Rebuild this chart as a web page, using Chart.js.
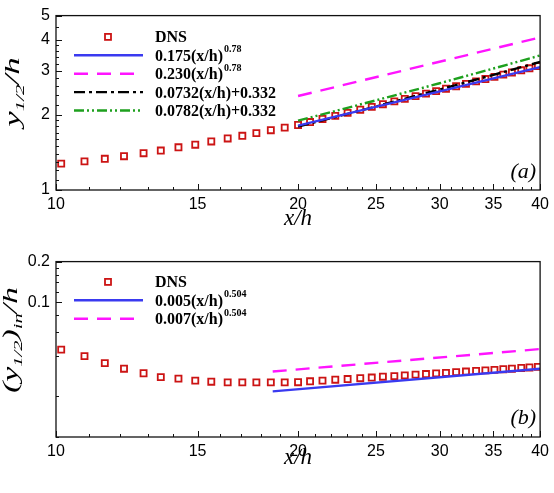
<!DOCTYPE html>
<html>
<head>
<meta charset="utf-8">
<script src="https://cdn.jsdelivr.net/npm/chart.js@4.4.1/dist/chart.umd.min.js"></script>
<style>
  html, body { margin: 0; padding: 0; background: #fff; }
  #wrap { position: relative; width: 554px; height: 493px; }
  canvas { position: absolute; left: 0; }
</style>
</head>
<body>
<div id="wrap">
  <canvas id="topCanvas" width="554" height="246" style="top:0;width:554px;height:246px"></canvas>
  <canvas id="bottomCanvas" width="554" height="247" style="top:246px;width:554px;height:247px"></canvas>
</div>
<script>
// x/h positions of the DNS samples (same in both panels)
const xh = [10.15, 10.85, 11.5, 12.15, 12.85, 13.5, 14.2, 14.9, 15.6, 16.35, 17.05, 17.75, 18.5, 19.25,
  20.0, 20.7, 21.45, 22.25, 23.05, 23.9, 24.7, 25.5, 26.35, 27.15, 28.0, 28.85, 29.7, 30.55,
  31.45, 32.35, 33.3, 34.2, 35.1, 36.0, 36.9, 37.9, 38.8, 39.75];

// (a) y_1/2 / h
const dnsTop = [1.275, 1.302, 1.334, 1.366, 1.404, 1.439, 1.483, 1.519, 1.565, 1.609, 1.649, 1.690, 1.736, 1.778,
  1.822, 1.872, 1.926, 1.982, 2.038, 2.097, 2.153, 2.207, 2.265, 2.319, 2.377, 2.434, 2.490, 2.546,
  2.605, 2.664, 2.725, 2.784, 2.842, 2.899, 2.956, 3.019, 3.075, 3.135];
const powX = [20, 40];
const blueTop = [1.81, 3.11];
const magentaTop = [2.38, 4.09];
const linX = [20, 25, 30, 35, 40];
const blackTop = [1.796, 2.162, 2.528, 2.894, 3.26];
const greenTop = [1.896, 2.287, 2.678, 3.069, 3.46];

// (b) (y_1/2)_in / h
const dnsBottom = [0.0445, 0.0398, 0.0353, 0.0321, 0.0297, 0.0278, 0.0271, 0.0262, 0.0257, 0.0254, 0.0254, 0.0254, 0.0254, 0.0254,
  0.0255, 0.0259, 0.0262, 0.0266, 0.0269, 0.0273, 0.0276, 0.0280, 0.0283, 0.0286, 0.0290, 0.0293, 0.0296, 0.0299,
  0.0303, 0.0306, 0.0309, 0.0312, 0.0315, 0.0318, 0.0321, 0.0325, 0.0328, 0.0331];
const powXb = [18.6, 40];
const blueBottom = [0.0218, 0.0321];
const magentaBottom = [0.0306, 0.0449];

// ticks
const xTicks = [10, 11, 12, 13, 14, 15, 16, 17, 18, 19, 20, 21, 22, 23, 24, 25, 26, 27, 28, 29, 30,
  31, 32, 33, 34, 35, 36, 37, 38, 39, 40];
const xLabels = [10, 15, 20, 25, 30, 35, 40];
const yTicksTop = [1, 1.1, 1.2, 1.3, 1.4, 1.5, 1.6, 1.7, 1.8, 1.9, 2, 2.2, 2.4, 2.6, 2.8, 3, 3.2, 3.4, 3.6, 3.8, 4, 4.5, 5];
const yLabelsTop = [1, 2, 3, 4, 5];
const yTicksBottom = [0.01, 0.02, 0.04, 0.06, 0.08, 0.1, 0.12, 0.14, 0.16, 0.18, 0.2];
const yLabelsBottom = [0.1, 0.2];

// legend texts
const legendTop = ["DNS", "0.175(x/h)", "0.230(x/h)", "0.0732(x/h)+0.332", "0.0782(x/h)+0.332"];
const legendTopSup = ["", "0.78", "0.78", "", ""];
const legendBottom = ["DNS", "0.005(x/h)", "0.007(x/h)"];
const legendBottomSup = ["", "0.504", "0.504"];

const RED = "#cc1414";
const BLUE = "#3a3af0";
const MAGENTA = "#ff14ff";
const GREEN = "#1ea01e";
const serif = "'Liberation Serif', 'Times New Roman', serif";
const sans = "'Liberation Sans', Arial, sans-serif";

function pts(xs, ys) {
    return xs.map((x, i) => ({ x: x, y: ys[i] }));
}

function dnsSet(ys) {
    return {
        data: pts(xh, ys),
        showLine: false,
        pointStyle: "rect",
        pointRadius: 4.3,
        pointBorderWidth: 1.8,
        pointBorderColor: RED,
        pointBackgroundColor: "rgba(0,0,0,0)",
        order: 10
    };
}

function lineSet(xs, ys, color, dash) {
    return {
        data: pts(xs, ys),
        borderColor: color,
        borderWidth: 2.4,
        borderDash: dash,
        pointRadius: 0,
        fill: false,
        order: 1
    };
}

// inward ticks, frame, legend, panel letter and the y title with subscripts
const framePlugin = {
    id: "frame",
    afterDraw(chart, args, opts) {
        const ctx = chart.ctx;
        const a = chart.chartArea;
        const xs = chart.scales.x, ys = chart.scales.y;
        ctx.save();
        ctx.strokeStyle = "#111";
        ctx.lineWidth = 1;
        ctx.beginPath();
        xs.ticks.forEach(t => {
            const px = Math.round(xs.getPixelForValue(t.value)) + 0.5;
            const len = xLabels.includes(t.value) ? 6 : 3;
            ctx.moveTo(px, a.bottom);
            ctx.lineTo(px, a.bottom - len);
        });
        ys.ticks.forEach(t => {
            const py = Math.round(ys.getPixelForValue(t.value)) + 0.5;
            const len = opts.yLabels.includes(t.value) ? 6 : 3;
            ctx.moveTo(a.left, py);
            ctx.lineTo(a.left + len, py);
        });
        ctx.stroke();
        ctx.lineWidth = 1.3;
        ctx.strokeRect(a.left, a.top, a.right - a.left, a.bottom - a.top);

        // legend
        chart.data.datasets.forEach((ds, i) => {
            const y = a.top + opts.legendTop + i * 18.4;
            if (ds.showLine === false) {
                ctx.strokeStyle = ds.pointBorderColor;
                ctx.lineWidth = 1.8;
                ctx.setLineDash([]);
                ctx.strokeRect(105, y - 3, 6, 6);
            } else {
                ctx.strokeStyle = ds.borderColor;
                ctx.lineWidth = ds.borderWidth;
                ctx.setLineDash(ds.borderDash || []);
                ctx.beginPath();
                ctx.moveTo(74, y);
                ctx.lineTo(143, y);
                ctx.stroke();
            }
            ctx.setLineDash([]);
            ctx.fillStyle = "#000";
            ctx.textAlign = "left";
            ctx.textBaseline = "alphabetic";
            ctx.font = "bold 16px " + serif;
            ctx.fillText(opts.legend[i], 155, y + 5.5);
            if (opts.legendSup[i]) {
                const w = ctx.measureText(opts.legend[i]).width;
                ctx.font = "bold 10px " + serif;
                ctx.fillText(opts.legendSup[i], 155 + w + 1, y - 3);
            }
        });

        // panel letter
        ctx.font = "italic 22px " + serif;
        ctx.textAlign = "right";
        ctx.fillText(opts.panel, a.right - 4, a.bottom - opts.panelUp);

        // y title, rotated, with subscripts
        ctx.translate(opts.titleX, opts.titleY);
        ctx.rotate(-Math.PI / 2);
        ctx.scale(opts.stretch, 1);
        const main = "italic 20px " + serif;
        const sub = "italic 12px " + serif;
        let total = 0;
        opts.title.forEach(p => {
            ctx.font = p[1] ? sub : main;
            total += ctx.measureText(p[0]).width;
        });
        let x = -total / 2;
        ctx.textAlign = "left";
        opts.title.forEach(p => {
            ctx.font = p[1] ? sub : main;
            ctx.fillText(p[0], x, p[1] ? 5 : 0);
            x += ctx.measureText(p[0]).width;
        });
        ctx.restore();
    }
};

function makeOptions(yMin, yMax, yTicks, yLabels, axisHeight, titlePad, frame) {
    return {
        responsive: false,
        animation: false,
        layout: { padding: { top: 13, right: 13, left: 0, bottom: 0 } },
        plugins: {
            legend: { display: false },
            tooltip: { enabled: false },
            frame: frame
        },
        scales: {
            x: {
                type: "logarithmic",
                min: 10,
                max: 40,
                afterBuildTicks: (axis) => { axis.ticks = xTicks.map(v => ({ value: v })); },
                afterFit: (axis) => { axis.height = axisHeight; },
                grid: { display: false, drawTicks: false },
                border: { display: false },
                ticks: {
                    autoSkip: false,
                    maxRotation: 0,
                    minRotation: 0,
                    padding: 5,
                    color: "#000",
                    font: { family: sans, size: 16 },
                    callback: (v) => xLabels.includes(v) ? String(v) : ""
                },
                title: {
                    display: true,
                    text: "x/h",
                    color: "#000",
                    font: { family: serif, size: 23, style: "italic" },
                    padding: { top: 0, bottom: titlePad }
                }
            },
            y: {
                type: "logarithmic",
                min: yMin,
                max: yMax,
                afterBuildTicks: (axis) => { axis.ticks = yTicks.map(v => ({ value: v })); },
                afterFit: (axis) => { axis.width = 56; },
                grid: { display: false, drawTicks: false },
                border: { display: false },
                ticks: {
                    autoSkip: false,
                    padding: 6,
                    color: "#000",
                    font: { family: sans, size: 16 },
                    callback: (v) => yLabels.includes(v) ? String(v) : ""
                }
            }
        }
    };
}

const topPlot = new Chart(document.getElementById("topCanvas").getContext("2d"), {
    type: "line",
    data: {
        datasets: [
            dnsSet(dnsTop),
            lineSet(powX, blueTop, BLUE, []),
            lineSet(powX, magentaTop, MAGENTA, [14, 9]),
            lineSet(linX, blackTop, "#000", [11, 4, 3, 4]),
            lineSet(linX, greenTop, GREEN, [10, 3, 2, 3, 2, 3])
        ]
    },
    options: makeOptions(1, 5, yTicksTop, yLabelsTop, 56, 13, {
        yLabels: yLabelsTop,
        legend: legendTop,
        legendSup: legendTopSup,
        legendTop: 21.3,
        panel: "(a)",
        panelUp: 12,
        title: [["y", 0], ["1/2", 1], ["/h", 0]],
        titleX: 19,
        titleY: 92,
        stretch: 1.75
    }),
    plugins: [framePlugin]
});

const bottomPlot = new Chart(document.getElementById("bottomCanvas").getContext("2d"), {
    type: "line",
    data: {
        datasets: [
            dnsSet(dnsBottom),
            lineSet(powXb, blueBottom, BLUE, []),
            lineSet(powXb, magentaBottom, MAGENTA, [14, 9])
        ]
    },
    options: makeOptions(0.01, 0.2, yTicksBottom, yLabelsBottom, 56, 21, {
        yLabels: yLabelsBottom,
        legend: legendBottom,
        legendSup: legendBottomSup,
        legendTop: 20.3,
        panel: "(b)",
        panelUp: 13,
        title: [["(y", 0], ["1/2", 1], [")", 0], ["in", 1], ["/h", 0]],
        titleX: 17,
        titleY: 94,
        stretch: 1.7
    }),
    plugins: [framePlugin]
});
</script>
</body>
</html>
